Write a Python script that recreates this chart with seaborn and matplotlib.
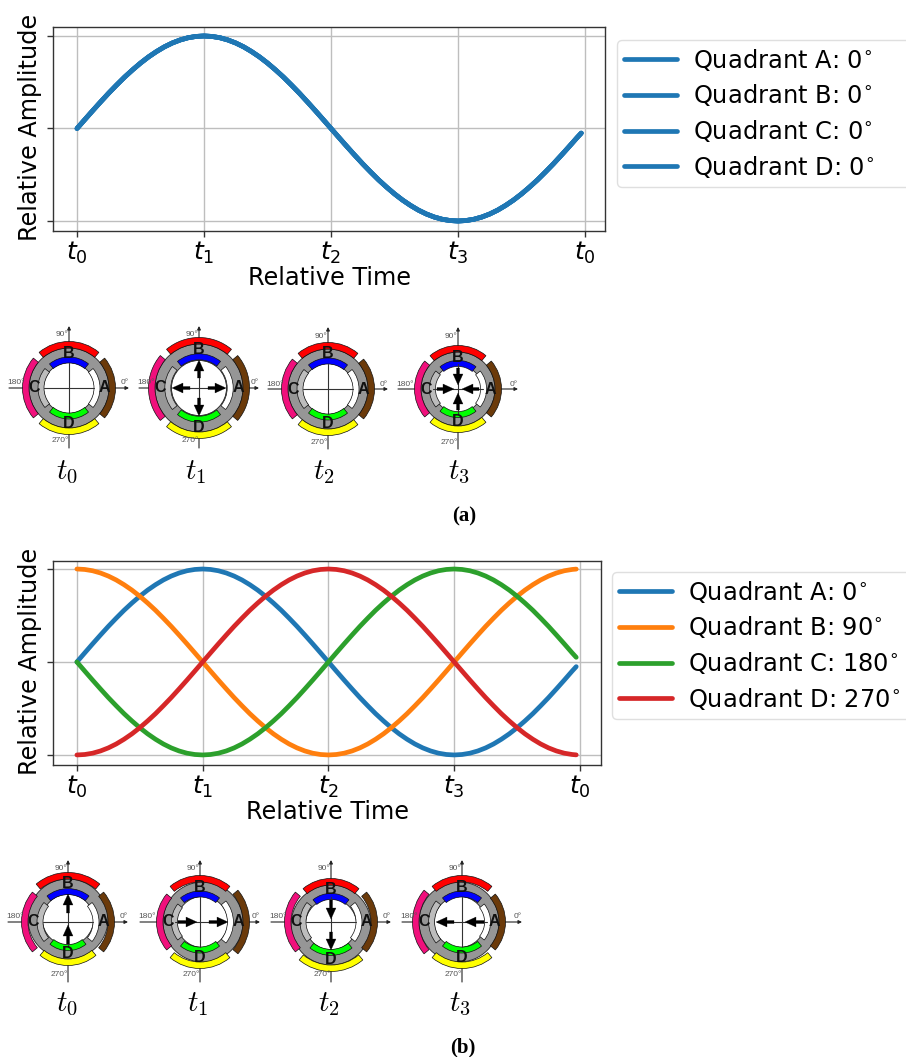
import matplotlib
matplotlib.use("Agg")
import pandas as pd
import matplotlib.pyplot as plt
import seaborn as sns
from matplotlib.patches import Wedge, Circle, FancyArrow

sns.set_theme(style="ticks")
plt.rcParams['font.family'] = ['DejaVu Sans']
plt.rcParams['mathtext.fontset'] = 'dejavusans'
plt.rcParams['text.color'] = 'black'
plt.rcParams['axes.labelcolor'] = 'black'
plt.rcParams['xtick.color'] = 'black'

# valores
time_pos = [0, 0.0625, 0.125, 0.1875, 0.25, 0.3125, 0.375, 0.4375, 0.5, 0.5625, 0.625, 0.6875, 0.75, 0.8125, 0.875, 0.9375,
            1, 1.0625, 1.125, 1.1875, 1.25, 1.3125, 1.375, 1.4375, 1.5, 1.5625, 1.625, 1.6875, 1.75, 1.8125, 1.875, 1.9375,
            2, 2.0625, 2.125, 2.1875, 2.25, 2.3125, 2.375, 2.4375, 2.5, 2.5625, 2.625, 2.6875, 2.75, 2.8125, 2.875, 2.9375,
            3, 3.0625, 3.125, 3.1875, 3.25, 3.3125, 3.375, 3.4375, 3.5, 3.5625, 3.625, 3.6875, 3.75, 3.8125, 3.875, 3.9375, 3.97]
amp_a = [0, 0.098, 0.195, 0.29, 0.383, 0.471, 0.556, 0.634, 0.707, 0.773, 0.831, 0.882, 0.924, 0.957, 0.981, 0.995,
         1, 0.995, 0.981, 0.957, 0.924, 0.882, 0.831, 0.773, 0.707, 0.634, 0.556, 0.471, 0.383, 0.29, 0.195, 0.098,
         0, -0.098, -0.195, -0.29, -0.383, -0.471, -0.556, -0.634, -0.707, -0.773, -0.831, -0.882, -0.924, -0.957, -0.981, -0.995,
         -1, -0.995, -0.981, -0.957, -0.924, -0.882, -0.831, -0.773, -0.707, -0.634, -0.556, -0.471, -0.383, -0.29, -0.195, -0.098, -0.05]
amp_b = [1, 0.995, 0.981, 0.957, 0.924, 0.882, 0.831, 0.773, 0.707, 0.634, 0.556, 0.471, 0.383, 0.29, 0.195, 0.098,
         0, -0.098, -0.195, -0.29, -0.383, -0.471, -0.556, -0.634, -0.707, -0.773, -0.831, -0.882, -0.924, -0.957, -0.981, -0.995,
         -1, -0.995, -0.981, -0.957, -0.924, -0.882, -0.831, -0.773, -0.707, -0.634, -0.556, -0.471, -0.383, -0.29, -0.195, -0.098,
         0, 0.098, 0.195, 0.29, 0.383, 0.471, 0.556, 0.634, 0.707, 0.773, 0.831, 0.882, 0.924, 0.957, 0.981, 0.995, 0.999]
amp_c = [0, -0.098, -0.195, -0.29, -0.383, -0.471, -0.556, -0.634, -0.707, -0.773, -0.831, -0.882, -0.924, -0.957, -0.981, -0.995,
         -1, -0.995, -0.981, -0.957, -0.924, -0.882, -0.831, -0.773, -0.707, -0.634, -0.556, -0.471, -0.383, -0.29, -0.195, -0.098,
         0, 0.098, 0.195, 0.29, 0.383, 0.471, 0.556, 0.634, 0.707, 0.773, 0.831, 0.882, 0.924, 0.957, 0.981, 0.995,
         1, 0.995, 0.981, 0.957, 0.924, 0.882, 0.831, 0.773, 0.707, 0.634, 0.556, 0.471, 0.383, 0.29, 0.195, 0.098, 0.05]
amp_d = [-1, -0.995, -0.981, -0.957, -0.924, -0.882, -0.831, -0.773, -0.707, -0.634, -0.556, -0.471, -0.383, -0.29, -0.195, -0.098,
         0, 0.098, 0.195, 0.29, 0.383, 0.471, 0.556, 0.634, 0.707, 0.773, 0.831, 0.882, 0.924, 0.957, 0.981, 0.995,
         1, 0.995, 0.981, 0.957, 0.924, 0.882, 0.831, 0.773, 0.707, 0.634, 0.556, 0.471, 0.383, 0.29, 0.195, 0.098,
         0, -0.098, -0.195, -0.29, -0.383, -0.471, -0.556, -0.634, -0.707, -0.773, -0.831, -0.882, -0.924, -0.957, -0.981, -0.995, -0.999]

labels_top = ['Quadrant A: 0$^{\\circ}$', 'Quadrant B: 0$^{\\circ}$', 'Quadrant C: 0$^{\\circ}$', 'Quadrant D: 0$^{\\circ}$']
labels_bottom = ['Quadrant A: 0$^{\\circ}$', 'Quadrant B: 90$^{\\circ}$', 'Quadrant C: 180$^{\\circ}$', 'Quadrant D: 270$^{\\circ}$']
time_ticks = [0, 1, 2, 3, 4]
time_labels = ['$t_0$', '$t_1$', '$t_2$', '$t_3$', '$t_0$']
amp_ticks = [-1, 0, 1]
diagram_labels = ['t_0', 't_1', 't_2', 't_3']

W, H = 906, 1057
fig = plt.figure(figsize=(W / 100, H / 100), dpi=100)


def make_axes(left, right, top, bottom):
    return fig.add_axes([left / W, 1 - bottom / H, (right - left) / W, (bottom - top) / H])


def long_table(series, labels):
    frames = []
    for values, label in zip(series, labels):
        frames.append(pd.DataFrame({'time': time_pos, 'amp': values, 'quadrant': label}))
    return pd.concat(frames)


def draw_wave(ax, df, palette, xlim, ylim, legend_left, legend_top):
    sns.lineplot(data=df, x='time', y='amp', hue='quadrant', palette=palette, linewidth=3.4, ax=ax, sort=False, errorbar=None)
    ax.set_xlim(*xlim)
    ax.set_ylim(*ylim)
    ax.set_xticks(time_ticks)
    ax.set_xticklabels(time_labels, fontsize=18)
    ax.set_yticks(amp_ticks)
    ax.set_yticklabels([])
    ax.grid(True, color='#bebebe', linewidth=1)
    ax.set_axisbelow(True)
    ax.tick_params(length=4, width=1, color='#333333', pad=2)
    for spine in ax.spines.values():
        spine.set_color('#333333')
        spine.set_linewidth(1)
    ax.set_xlabel('Relative Time', fontsize=17.3, labelpad=0)
    ax.set_ylabel('Relative Amplitude', fontsize=17.3, labelpad=2)
    ax.yaxis.label.set_y(0.51)
    # a caixa da legenda passa da borda direita da figura
    box = (legend_left / W, 1 - legend_top / H, (925 - legend_left) / W, 0)
    leg = ax.legend(title=None, loc='upper left', bbox_to_anchor=box, bbox_transform=fig.transFigure, fontsize=17.4, mode='expand',
                    frameon=True, borderaxespad=0, labelspacing=0.4, handlelength=2.2, handletextpad=0.66, borderpad=0.28)
    leg.get_frame().set_edgecolor('#d8d8d8')


blue = sns.color_palette('tab10')[0]
ax_a = make_axes(53, 605, 27, 231)
draw_wave(ax_a, long_table([amp_a] * 4, labels_top), [blue] * 4, (-0.189, 4.157), (-1.108, 1.097), 617, 40)
ax_b = make_axes(53, 601, 561, 765)
draw_wave(ax_b, long_table([amp_a, amp_b, amp_c, amp_d], labels_bottom), sns.color_palette('tab10')[:4], (-0.19, 4.167), (-1.108, 1.086), 612, 572)

# diagramas dos quadrantes, em coordenadas de pixel
over = fig.add_axes([0, 0, 1, 1])
over.set_xlim(0, W)
over.set_ylim(0, H)
over.axis('off')
over.patch.set_alpha(0)

outer_colors = ['#6b3a0a', '#ff0000', '#f0107c', '#ffff00']
inner_colors = ['#ffffff', '#0000ff', '#bdbdbd', '#00ff00']
quad_angles = [-40, 50, 140, 230]
letters = ['A', 'B', 'C', 'D']
letter_dirs = [(1, 0), (0, 1), (-1, 0), (0, -1)]


def draw_diagram(cx, py, shifts, arrows, label, label_x, label_y):
    cy = H - py
    mean = sum(shifts) / 4
    dx = (shifts[0] - shifts[2]) / 2
    dy = (shifts[1] - shifts[3]) / 2
    # eixos
    style = dict(arrowstyle='-|>', color='#222222', lw=0.8, mutation_scale=5, shrinkA=0, shrinkB=0)
    over.annotate('', xy=(cx + 60, cy), xytext=(cx - 60, cy), arrowprops=style, zorder=1)
    over.annotate('', xy=(cx, cy + 62), xytext=(cx, cy - 60), arrowprops=style, zorder=1)
    over.add_patch(Circle((cx + dx, cy + dy), 40 + mean, fc='#969696', ec='#222222', lw=0.6, zorder=2))
    over.add_patch(Circle((cx + dx * 0.8, cy + dy * 0.8), 25.5 + mean * 0.5, fc='white', ec='#222222', lw=0.6, zorder=3))
    for i in range(4):
        a0 = quad_angles[i]
        d = shifts[i]
        over.add_patch(Wedge((cx, cy), 46.5 + d, a0, a0 + 80, width=6.5, fc=outer_colors[i], ec='#111111', lw=0.5, zorder=4))
        over.add_patch(Wedge((cx, cy), 31 + d * 0.8, a0 + 1, a0 + 79, width=6, fc=inner_colors[i], ec='#111111', lw=0.5, zorder=4))
        ux, uy = letter_dirs[i]
        over.text(cx + ux * (35 + d), cy + uy * (35 + d), letters[i], ha='center', va='center', fontsize=11.5,
                  family='Liberation Sans', fontweight='bold', color='#111111', zorder=5)
    # linhas finas por cima do miolo branco
    over.plot([cx - 25, cx + 25], [cy, cy], color='#333333', lw=0.8, zorder=4)
    over.plot([cx, cx], [cy - 25, cy + 25], color='#333333', lw=0.8, zorder=4)
    for tail, tip in arrows:
        over.add_patch(FancyArrow(cx + tail[0], cy + tail[1], tip[0] - tail[0], tip[1] - tail[1], width=3, head_width=10,
                                  head_length=11, length_includes_head=True, fc='black', ec='black', lw=0.2, zorder=6))
    for txt, ox, oy in [('90°', -7, 53), ('0°', 56, 5), ('180°', -53, 5), ('270°', -9, -53)]:
        over.text(cx + ox, cy + oy, txt, ha='center', va='center', fontsize=6, color='#555555', zorder=5,
                  family='Liberation Sans')
    over.text(label_x, H - label_y, f'${label}$', ha='center', va='center', fontsize=21,
              math_fontfamily='cm', color='black')


outward = [((9, 0), (27, 0)), ((0, 10), (0, 28)), ((-9, 0), (-27, 0)), ((0, -10), (0, -28))]
inward = [((-21, 0), (-4, 0)), ((0, 21), (0, 4)), ((21, 0), (4, 0)), ((0, -21), (0, -4))]
centers_a = [(69, 388), (199, 388), (328, 389), (458, 389)]
shifts_a = [(0, 0, 0, 0), (4, 4, 4, 4), (0, 0, 0, 0), (-3, -3, -3, -3)]
arrows_a = [[], outward, [], inward]
label_pos_a = [(67, 472), (196, 472), (324, 472), (459, 472)]

centers_b = [(68, 922), (200, 922), (331, 922), (462, 922)]
shifts_b = [(0, 3, 0, -3), (3, 0, -3, 0), (0, -3, 0, 3), (-3, 0, 3, 0)]
arrows_b = [[((0, 9), (0, 28)), ((0, -22), (0, -3))],
            [((-22, 0), (-3, 0)), ((9, 0), (28, 0))],
            [((0, 22), (0, 3)), ((0, -10), (0, -28))],
            [((-8, 0), (-26, 0)), ((22, 0), (3, 0))]]
label_pos_b = [(67, 1004), (198, 1004), (329, 1004), (460, 1004)]

for i in range(4):
    draw_diagram(centers_a[i][0], centers_a[i][1], shifts_a[i], arrows_a[i], diagram_labels[i], *label_pos_a[i])
    draw_diagram(centers_b[i][0], centers_b[i][1], shifts_b[i], arrows_b[i], diagram_labels[i], *label_pos_b[i])

over.text(464, H - 516, '(a)', ha='center', va='center', fontsize=15, family='Liberation Serif', fontweight='bold')
over.text(463, H - 1047, '(b)', ha='center', va='center', fontsize=15, family='Liberation Serif', fontweight='bold')

plt.savefig('out.png', dpi=100)
